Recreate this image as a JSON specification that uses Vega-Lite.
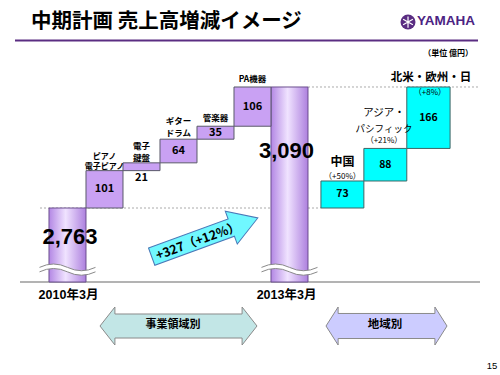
{
  "$schema": "https://vega.github.io/schema/vega-lite/v6.json",
  "width": 500,
  "height": 375,
  "autosize": "none",
  "padding": 0,
  "background": "white",
  "config": {
    "view": {"stroke": null},
    "font": "Noto Sans CJK JP",
    "text": {"font": "Noto Sans CJK JP", "color": "#000000"}
  },
  "data": {"values": [{}]},
  "layer": [
    {
      "mark": {"type": "rule", "color": "#9a9a9a", "strokeWidth": 1.5},
      "encoding": {
        "x": {"datum": 0.216, "type": "quantitative", "scale": {"domain": [-0.3243, 13.1892], "nice": false, "zero": false}, "axis": null},
        "x2": {"datum": 12.649},
        "y": {"datum": 2563, "type": "quantitative", "scale": {"domain": [2311.7, 3325.1], "nice": false, "zero": false}, "axis": null}
      }
    },
    {
      "mark": {"type": "rule", "color": "#5a2d82", "strokeWidth": 2.2},
      "encoding": {"x": {"datum": 0.081}, "x2": {"datum": 12.595}, "y": {"datum": 3215.6}}
    },
    {
      "mark": {"type": "rule", "color": "#aaaaaa", "strokeWidth": 1, "strokeDash": [2, 2]},
      "encoding": {"x": {"datum": 0.757}, "x2": {"datum": 8.351}, "y": {"datum": 2763}}
    },
    {
      "mark": {"type": "rule", "color": "#aaaaaa", "strokeWidth": 1, "strokeDash": [2, 2]},
      "encoding": {"x": {"datum": 8.0}, "x2": {"datum": 12.649}, "y": {"datum": 3090}}
    },
    {
      "data": {"values": [
        {"period": "2010年3月", "slot_start": 1, "slot_end": 2, "sales": 2763},
        {"period": "2013年3月", "slot_start": 7, "slot_end": 8, "sales": 3090}
      ]},
      "mark": {
        "type": "rect",
        "fill": {"gradient": "linear", "x1": 0, "y1": 0, "x2": 1, "y2": 0, "stops": [
          {"offset": 0, "color": "#b387e4"},
          {"offset": 0.45, "color": "#f0e3ff"},
          {"offset": 1, "color": "#ad80de"}
        ]},
        "stroke": "#6b4f8f",
        "strokeWidth": 1
      },
      "encoding": {
        "x": {"field": "slot_start", "type": "quantitative"},
        "x2": {"field": "slot_end"},
        "y": {"field": "sales", "type": "quantitative"},
        "y2": {"datum": 2563}
      }
    },
    {
      "data": {"values": [
        {"item": "ピアノ・電子ピアノ", "slot_start": 2, "slot_end": 3, "from": 2763, "to": 2864, "delta": 101},
        {"item": "電子鍵盤", "slot_start": 3, "slot_end": 4, "from": 2864, "to": 2885, "delta": 21},
        {"item": "ギター・ドラム", "slot_start": 4, "slot_end": 5, "from": 2885, "to": 2949, "delta": 64},
        {"item": "管楽器", "slot_start": 5, "slot_end": 6, "from": 2949, "to": 2984, "delta": 35},
        {"item": "PA機器", "slot_start": 6, "slot_end": 7, "from": 2984, "to": 3090, "delta": 106}
      ]},
      "mark": {"type": "rect", "fill": "#c9a1f3", "stroke": "#5a5a6a", "strokeWidth": 1},
      "encoding": {
        "x": {"field": "slot_start", "type": "quantitative"},
        "x2": {"field": "slot_end"},
        "y": {"field": "from", "type": "quantitative"},
        "y2": {"field": "to"}
      }
    },
    {
      "data": {"values": [
        {"region": "中国", "slot_start": 8.35, "slot_end": 9.51, "from": 2763, "to": 2836, "delta": 73},
        {"region": "アジア・パシフィック", "slot_start": 9.51, "slot_end": 10.67, "from": 2836, "to": 2924, "delta": 88},
        {"region": "北米・欧州・日", "slot_start": 10.67, "slot_end": 11.84, "from": 2924, "to": 3090, "delta": 166}
      ]},
      "mark": {"type": "rect", "fill": "#00ffff", "stroke": "#3f6565", "strokeWidth": 1},
      "encoding": {
        "x": {"field": "slot_start", "type": "quantitative"},
        "x2": {"field": "slot_end"},
        "y": {"field": "from", "type": "quantitative"},
        "y2": {"field": "to"}
      }
    },
    {
      "mark": {"type": "point", "shape": "M -1 -0.06 Q -0.5 -0.3 0 -0.06 T 1 -0.06 L 1 0.1 Q 0.5 0.34 0 0.1 T -1 0.1 Z", "filled": true, "fill": "#ffffff", "strokeWidth": 0, "size": 3136, "opacity": 1},
      "encoding": {"x": {"datum": 1.5}, "y": {"datum": 2598}}
    },
    {
      "mark": {"type": "point", "shape": "M -1 -0.06 Q -0.5 -0.3 0 -0.06 T 1 -0.06 M 1 0.1 Q 0.5 0.34 0 0.1 T -1 0.1", "filled": false, "stroke": "#8a8a8a", "strokeWidth": 1, "size": 3136, "opacity": 1},
      "encoding": {"x": {"datum": 1.5}, "y": {"datum": 2598}}
    },
    {
      "mark": {"type": "point", "shape": "M -1 -0.06 Q -0.5 -0.3 0 -0.06 T 1 -0.06 L 1 0.1 Q 0.5 0.34 0 0.1 T -1 0.1 Z", "filled": true, "fill": "#ffffff", "strokeWidth": 0, "size": 3136, "opacity": 1},
      "encoding": {"x": {"datum": 7.5}, "y": {"datum": 2598}}
    },
    {
      "mark": {"type": "point", "shape": "M -1 -0.06 Q -0.5 -0.3 0 -0.06 T 1 -0.06 M 1 0.1 Q 0.5 0.34 0 0.1 T -1 0.1", "filled": false, "stroke": "#8a8a8a", "strokeWidth": 1, "size": 3136, "opacity": 1},
      "encoding": {"x": {"datum": 7.5}, "y": {"datum": 2598}}
    },
    {
      "mark": {"type": "point", "shape": "M -1 -0.163 L 0.5 -0.163 L 0.5 -0.31 L 1 0 L 0.5 0.31 L 0.5 0.163 L -1 0.163 Z", "filled": true, "fill": "#70f8ff", "stroke": "#4a78b8", "strokeWidth": 1, "size": 12769, "angle": -20, "opacity": 1},
      "encoding": {"x": {"datum": 5.209}, "y": {"datum": 2683.9}}
    },
    {
      "mark": {"type": "text", "text": "+327（+12%）", "fontSize": 12.5, "fontWeight": "bold", "angle": -20},
      "encoding": {"x": {"datum": 5.027}, "y": {"datum": 2673.8}}
    },
    {
      "mark": {"type": "point", "shape": "M -1 0 L -0.81 -0.242 L -0.81 -0.153 L 0.81 -0.153 L 0.81 -0.242 L 1 0 L 0.81 0.242 L 0.81 0.153 L -0.81 0.153 L -0.81 0.242 Z", "filled": true, "fill": "#c2e6e6", "stroke": "#8a8a8a", "strokeWidth": 1, "size": 24649, "opacity": 1},
      "encoding": {"x": {"datum": 4.5}, "y": {"datum": 2444.1}}
    },
    {
      "mark": {"type": "point", "shape": "M -1 0 L -0.8 -0.314 L -0.8 -0.207 L 0.8 -0.207 L 0.8 -0.314 L 1 0 L 0.8 0.314 L 0.8 0.207 L -0.8 0.207 L -0.8 0.314 Z", "filled": true, "fill": "#ccccff", "stroke": "#8a8a8a", "strokeWidth": 1, "size": 14641, "opacity": 1},
      "encoding": {"x": {"datum": 10.122}, "y": {"datum": 2444.1}}
    },
    {
      "mark": {"type": "text", "text": "事業領域別", "fontSize": 11, "fontWeight": "bold"},
      "encoding": {"x": {"datum": 4.351}, "y": {"datum": 2446.8}}
    },
    {
      "mark": {"type": "text", "text": "地域別", "fontSize": 11.5, "fontWeight": "bold"},
      "encoding": {"x": {"datum": 10.081}, "y": {"datum": 2446.8}}
    },
    {
      "mark": {"type": "text", "text": "中期計画 売上高増減イメージ", "fontSize": 20.5, "fontWeight": "bold", "align": "left"},
      "encoding": {"x": {"datum": 0.514}, "y": {"datum": 3265.6}}
    },
    {
      "mark": {"type": "point", "shape": "circle", "filled": true, "fill": "#5a2d82", "strokeWidth": 0, "size": 225, "opacity": 1},
      "encoding": {"x": {"datum": 10.703}, "y": {"datum": 3265.6}}
    },
    {
      "mark": {"type": "point", "shape": "M 0 -0.75 L 0 0.75 M -0.65 -0.375 L 0.65 0.375 M -0.65 0.375 L 0.65 -0.375", "filled": false, "stroke": "#ffffff", "strokeWidth": 1.2, "size": 225, "opacity": 1},
      "encoding": {"x": {"datum": 10.703}, "y": {"datum": 3265.6}}
    },
    {
      "mark": {"type": "text", "text": "YAMAHA", "font": "Liberation Sans", "fontSize": 13.5, "fontWeight": "bold", "align": "left", "color": "#4b2383"},
      "encoding": {"x": {"datum": 10.946}, "y": {"datum": 3267.0}}
    },
    {
      "mark": {"type": "text", "text": "（単位 億円）", "fontSize": 8, "fontWeight": "bold", "align": "right"},
      "encoding": {"x": {"datum": 12.459}, "y": {"datum": 3179.2}}
    },
    {
      "mark": {"type": "text", "text": ["ピアノ", "電子ピアノ"], "fontSize": 8, "fontWeight": "bold", "lineHeight": 10},
      "encoding": {"x": {"datum": 2.5}, "y": {"datum": 2900.8}}
    },
    {
      "mark": {"type": "text", "text": ["電子", "鍵盤"], "fontSize": 8.5, "fontWeight": "bold", "lineHeight": 11.5},
      "encoding": {"x": {"datum": 3.5}, "y": {"datum": 2930.5}}
    },
    {
      "mark": {"type": "text", "text": ["ギター", "ドラム"], "fontSize": 8.5, "fontWeight": "bold", "lineHeight": 11.5},
      "encoding": {"x": {"datum": 4.5}, "y": {"datum": 2998.1}}
    },
    {
      "mark": {"type": "text", "text": "管楽器", "fontSize": 8.5, "fontWeight": "bold"},
      "encoding": {"x": {"datum": 5.5}, "y": {"datum": 3006.2}}
    },
    {
      "mark": {"type": "text", "text": "PA機器", "fontSize": 8.5, "fontWeight": "bold"},
      "encoding": {"x": {"datum": 6.5}, "y": {"datum": 3111.6}}
    },
    {
      "mark": {"type": "text", "text": "101", "fontSize": 11, "fontWeight": "bold"},
      "encoding": {"x": {"datum": 2.5}, "y": {"datum": 2813.5}}
    },
    {
      "mark": {"type": "text", "text": "21", "fontSize": 11, "fontWeight": "bold"},
      "encoding": {"x": {"datum": 3.5}, "y": {"datum": 2844.1}}
    },
    {
      "mark": {"type": "text", "text": "64", "fontSize": 11, "fontWeight": "bold"},
      "encoding": {"x": {"datum": 4.5}, "y": {"datum": 2917}}
    },
    {
      "mark": {"type": "text", "text": "35", "fontSize": 11, "fontWeight": "bold"},
      "encoding": {"x": {"datum": 5.5}, "y": {"datum": 2966.5}}
    },
    {
      "mark": {"type": "text", "text": "106", "fontSize": 11, "fontWeight": "bold"},
      "encoding": {"x": {"datum": 6.5}, "y": {"datum": 3037}}
    },
    {
      "mark": {"type": "text", "text": "2,763", "font": "Liberation Sans", "fontSize": 22, "fontWeight": "bold"},
      "encoding": {"x": {"datum": 1.568}, "y": {"datum": 2684.6}}
    },
    {
      "mark": {"type": "text", "text": "3,090", "font": "Liberation Sans", "fontSize": 22, "fontWeight": "bold"},
      "encoding": {"x": {"datum": 7.419}, "y": {"datum": 2917.0}}
    },
    {
      "mark": {"type": "text", "text": "中国", "fontSize": 12, "fontWeight": "bold"},
      "encoding": {"x": {"datum": 8.93}, "y": {"datum": 2887.3}}
    },
    {
      "mark": {"type": "text", "text": "（+50%）", "fontSize": 8},
      "encoding": {"x": {"datum": 8.93}, "y": {"datum": 2846.8}}
    },
    {
      "mark": {"type": "text", "text": "73", "fontSize": 10.5, "fontWeight": "bold"},
      "encoding": {"x": {"datum": 8.93}, "y": {"datum": 2799.5}}
    },
    {
      "mark": {"type": "text", "text": "アジア・", "fontSize": 10.5},
      "encoding": {"x": {"datum": 10.054}, "y": {"datum": 3019.7}}
    },
    {
      "mark": {"type": "text", "text": "パシフィック", "fontSize": 9.5},
      "encoding": {"x": {"datum": 10.054}, "y": {"datum": 2976.5}}
    },
    {
      "mark": {"type": "text", "text": "（+21%）", "fontSize": 8},
      "encoding": {"x": {"datum": 10.054}, "y": {"datum": 2944.0}}
    },
    {
      "mark": {"type": "text", "text": "88", "fontSize": 10.5, "fontWeight": "bold"},
      "encoding": {"x": {"datum": 10.09}, "y": {"datum": 2880}}
    },
    {
      "mark": {"type": "text", "text": "北米・欧州・日", "fontSize": 11.5, "fontWeight": "bold"},
      "encoding": {"x": {"datum": 11.324}, "y": {"datum": 3114.3}}
    },
    {
      "mark": {"type": "text", "text": "（+8%）", "fontSize": 8},
      "encoding": {"x": {"datum": 11.297}, "y": {"datum": 3073.8}}
    },
    {
      "mark": {"type": "text", "text": "166", "fontSize": 10.5, "fontWeight": "bold"},
      "encoding": {"x": {"datum": 11.255}, "y": {"datum": 3007}}
    },
    {
      "mark": {"type": "text", "text": "2010年3月", "font": "Liberation Sans, Noto Sans CJK JP", "fontSize": 12.5, "fontWeight": "bold"},
      "encoding": {"x": {"datum": 1.527}, "y": {"datum": 2527.9}}
    },
    {
      "mark": {"type": "text", "text": "2013年3月", "font": "Liberation Sans, Noto Sans CJK JP", "fontSize": 12.5, "fontWeight": "bold"},
      "encoding": {"x": {"datum": 7.42}, "y": {"datum": 2527.9}}
    },
    {
      "mark": {"type": "text", "text": "15", "font": "Liberation Sans", "fontSize": 9.5},
      "encoding": {"x": {"datum": 12.973}, "y": {"datum": 2336.0}}
    }
  ]
}
